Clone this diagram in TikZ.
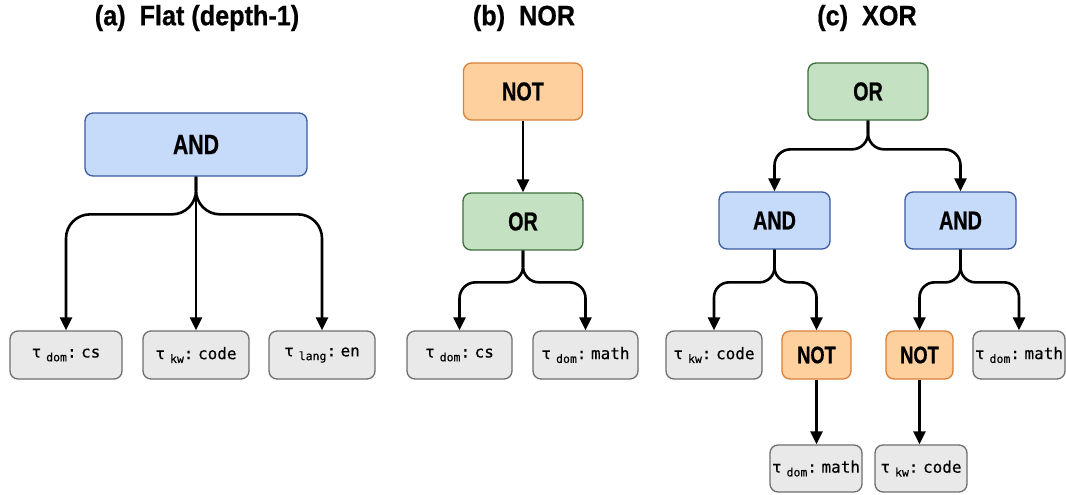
\documentclass[tikz,border=0pt]{standalone}
\usepackage{fontspec}
\usetikzlibrary{arrows.meta,calc}
\newfontfamily\condfont[FakeStretch=0.76, BoldFeatures={FakeBold=0.6}]{Liberation Sans}
\newfontfamily\titlefont[FakeStretch=0.9, BoldFeatures={FakeBold=0.6}]{Liberation Sans}
\newfontfamily\leafmono[FakeBold=0.4]{DejaVu Sans Mono}
\definecolor{andfill}{HTML}{C6DAFA}
\definecolor{anddraw}{HTML}{3A5BA0}
\definecolor{orfill}{HTML}{C4E2C2}
\definecolor{ordraw}{HTML}{3E6E3E}
\definecolor{notfill}{HTML}{FDD09E}
\definecolor{notdraw}{HTML}{D9803A}
\definecolor{leaffill}{HTML}{E9E9E9}
\definecolor{leafdraw}{HTML}{6E6E6E}
\newcommand\tlab[2]{{\leafmono\fontsize{16}{19}\selectfont τ\hspace{5pt}\raisebox{-3.8pt}{\fontsize{11.5}{13}\selectfont #1}:\hspace{4.5pt}#2}}
\begin{document}
\begin{tikzpicture}[x=1pt,y=-1pt,
  box/.style={rounded corners=8pt, line width=1.3pt, inner sep=0pt, align=center},
  andbox/.style={box, fill=andfill, draw=anddraw},
  orbox/.style={box, fill=orfill, draw=ordraw},
  notbox/.style={box, fill=notfill, draw=notdraw},
  leaf/.style={box, fill=leaffill, draw=leafdraw, minimum height=48pt},
  opA/.style={font=\condfont\bfseries\fontsize{28}{30}\selectfont},
  opB/.style={font=\condfont\bfseries\fontsize{26}{28}\selectfont},
  opC/.style={font=\condfont\bfseries\fontsize{24}{26}\selectfont},
  title/.style={font=\titlefont\bfseries\fontsize{28}{30}\selectfont, inner sep=0pt},
  conn/.style={line width=2.6pt, -{Triangle[width=12pt,length=13pt]}}
]
\useasboundingbox (0,0) rectangle (1066,495);

% titles
\node[title] (ta) at (197,18) {(a)\ \ Flat (depth-1)};
\node[title] (tb) at (524,18) {(b)\ \ NOR};
\node[title] (tc) at (867,18) {(c)\ \ XOR};

% ---- (a)
\node[andbox, opA, minimum width=222pt, minimum height=63pt] (a0) at (196,144.5) {AND};
\node[leaf, minimum width=112pt] (a1) at (66,355) {\tlab{dom}{cs}};
\node[leaf, minimum width=106pt] (a2) at (196,355) {\tlab{kw}{code}};
\node[leaf, minimum width=106pt] (a3) at (322,355) {\tlab{lang}{en}};
\draw[conn, rounded corners=24pt] (a0.south) |- ([yshift=116pt]a1.north) -- (a1.north);
\draw[conn] (a0.south) -- (a2.north);
\draw[conn, rounded corners=24pt] (a0.south) |- ([yshift=116pt]a3.north) -- (a3.north);

% ---- (b)
\node[notbox, opB, minimum width=119pt, minimum height=57pt] (b0) at (523,91.5) {NOT};
\node[orbox, opB, minimum width=120pt, minimum height=57pt] (b1) at (523,221.5) {OR};
\node[leaf, minimum width=105pt] (b2) at (459.5,355) {\tlab{dom}{cs}};
\node[leaf, minimum width=105pt] (b3) at (585.5,355) {\tlab{dom}{math}};
\draw[conn] (b0.south) -- (b1.north);
\draw[conn, rounded corners=16pt] (b1.south) |- ([yshift=48pt]b2.north) -- (b2.north);
\draw[conn, rounded corners=16pt] (b1.south) |- ([yshift=48pt]b3.north) -- (b3.north);

% ---- (c)
\node[orbox, opB, minimum width=120pt, minimum height=57pt] (c0) at (868,91.5) {OR};
\node[andbox, opB, minimum width=111pt, minimum height=57pt] (c1) at (774.5,220.5) {AND};
\node[andbox, opB, minimum width=111pt, minimum height=57pt] (c2) at (960.5,220.5) {AND};
\node[leaf, minimum width=96pt] (c3) at (714,355) {\tlab{kw}{code}};
\node[notbox, opC, minimum width=69pt, minimum height=48pt] (c4) at (816.5,355) {NOT};
\node[notbox, opC, minimum width=67pt, minimum height=48pt] (c5) at (919.5,355) {NOT};
\node[leaf, minimum width=92pt] (c6) at (1019,355) {\tlab{dom}{math}};
\node[leaf, minimum width=92pt, minimum height=47pt] (c7) at (816,468.5) {\tlab{dom}{math}};
\node[leaf, minimum width=92pt, minimum height=47pt] (c8) at (921,468.5) {\tlab{kw}{code}};
\draw[conn, rounded corners=16pt] (c0.south) |- ([yshift=42pt]c1.north) -- (c1.north);
\draw[conn, rounded corners=16pt] (c0.south) |- ([yshift=42pt]c2.north) -- (c2.north);
\draw[conn, rounded corners=15pt] (c1.south) |- ([yshift=48pt]c3.north) -- (c3.north);
\draw[conn, rounded corners=15pt] (c1.south) |- ([yshift=48pt]c4.north) -- (c4.north);
\draw[conn, rounded corners=15pt] (c2.south) |- ([yshift=48pt]c5.north) -- (c5.north);
\draw[conn, rounded corners=15pt] (c2.south) |- ([yshift=48pt]c6.north) -- (c6.north);
\draw[conn] (c4.south) -- (c4.south |- c7.north);
\draw[conn] (c5.south) -- (c5.south |- c8.north);
\end{tikzpicture}
\end{document}
